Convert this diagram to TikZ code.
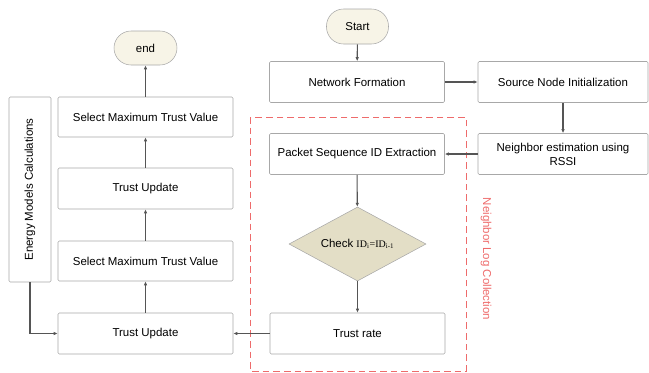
\documentclass[tikz,border=0pt]{standalone}
\usepackage{fontspec}
\setmainfont{Liberation Sans}
\newfontfamily\idfont{Liberation Serif}
\usetikzlibrary{shapes.geometric,arrows.meta}

\definecolor{boxline}{HTML}{A8A8A8}
\definecolor{flowline}{HTML}{555555}
\definecolor{termfill}{HTML}{F7F4E7}
\definecolor{decfill}{HTML}{E3DEC6}
\definecolor{logred}{HTML}{EE6B6B}

\tikzset{
  procbox/.style = {draw=boxline, rounded corners=1pt, minimum width=175pt*0.75, minimum height=41pt*0.75, font=\fontsize{8.6}{10.5}\selectfont, align=center},
  termbox/.style = {draw=boxline, rounded corners=17pt*0.75, fill=termfill, minimum width=62pt*0.75, minimum height=35pt*0.75, font=\fontsize{8.6}{10.5}\selectfont},
  checkbox/.style = {draw=boxline, diamond, aspect=1.85, fill=decfill, minimum width=137pt*0.75, minimum height=74pt*0.75, inner sep=0pt, font=\fontsize{8.6}{10.5}\selectfont},
  flow/.style = {draw=flowline, line width=0.8pt, -{Latex[length=3pt,width=2.6pt]}}
}

\begin{document}
\begin{tikzpicture}[x=0.75pt, y=-0.75pt]
  \useasboundingbox (0,0) rectangle (649,372);

  % right hand column
  \node[termbox] (start) at (357.5,26.5) {Start};
  \node[procbox] (net) at (357,82) {Network Formation};
  \node[procbox, minimum width=170pt*0.75] (src) at (563,82) {Source Node Initialization};
  \node[procbox, minimum width=170pt*0.75] (nbr) at (563,154) {Neighbor estimation using\\RSSI};
  \node[procbox] (pkt) at (357,154) {Packet Sequence ID Extraction};
  \node[checkbox] (chk) at (357.5,244) {Check {\idfont\fontsize{7.5}{9}\selectfont ID\textsubscript{i}=ID\textsubscript{i-1}}};
  \node[procbox] (rate) at (357.5,333.5) {Trust rate};

  % left hand column
  \node[procbox] (upd1) at (145.5,333.5) {Trust Update};
  \node[procbox, minimum height=40pt*0.75] (sel1) at (145.5,261) {Select Maximum Trust Value};
  \node[procbox] (upd2) at (145.5,188.5) {Trust Update};
  \node[procbox, minimum height=40pt*0.75] (sel2) at (145.5,117) {Select Maximum Trust Value};
  \node[termbox, minimum width=63pt*0.75, minimum height=34pt*0.75] (end) at (145.5,48) {end};
  \node[procbox, minimum width=185pt*0.75, minimum height=42pt*0.75, rotate=90] (energy) at (30,189.5) {Energy Models Calculations};

  % neighbour log group
  \draw[logred, dashed, dash pattern=on 5pt off 3pt, line width=0.6pt] (250,117) rectangle (466,371);
  \node[logred, rotate=-90, font=\fontsize{8.6}{10.5}\selectfont] (loglbl) at (486,259) {Neighbor Log Collection};

  % connectors
  \draw[flow] (start) -- (net);
  \draw[flow] (net) -- (src);
  \draw[flow] (src) -- (nbr);
  \draw[flow] (nbr) -- (pkt);
  \draw[flow] (pkt) -- (chk);
  \draw[flow] (chk) -- (rate);
  \draw[flow] (rate) -- (upd1);
  \draw[flow] (upd1) -- (sel1);
  \draw[flow] (sel1) -- (upd2);
  \draw[flow] (upd2) -- (sel2);
  \draw[flow] (sel2) -- (end);
  \draw[flow] (energy.west) |- (upd1.west);
\end{tikzpicture}
\end{document}
